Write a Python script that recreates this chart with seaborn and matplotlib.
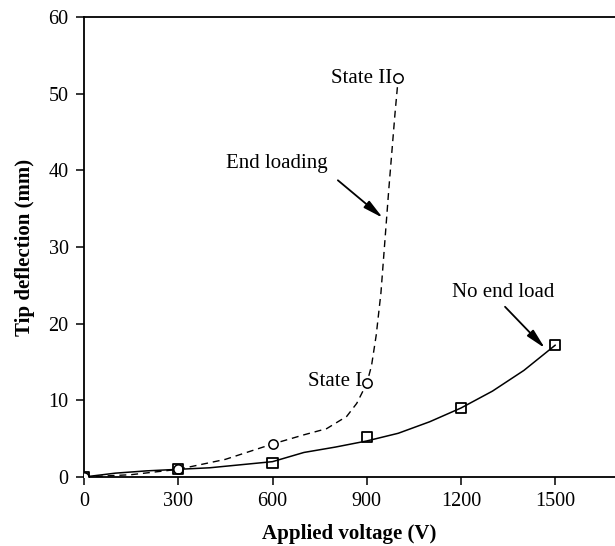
import pandas as pd
import matplotlib
matplotlib.use("Agg")
import matplotlib.pyplot as plt
import seaborn as sns

# Curve: end loading (dashed)
end_curve_v = [0, 150, 300, 450, 600, 700, 772, 836, 868, 900, 915, 930, 945, 958, 970, 980, 990, 1000]
end_curve_d = [0, 0.3, 1.0, 2.3, 4.3, 5.5, 6.3, 7.9, 9.6, 12.2, 14.5, 18.5, 24.0, 31.0, 37.5, 42.5, 47.5, 52.0]
end_marker_v = [0, 300, 600, 900, 1000]
end_marker_d = [0, 1.0, 4.3, 12.2, 52.0]

# Curve: no end load (solid)
free_curve_v = [0, 100, 200, 300, 400, 500, 600, 700, 800, 900, 1000, 1100, 1200, 1300, 1400, 1500]
free_curve_d = [0, 0.5, 0.8, 1.0, 1.2, 1.6, 2.0, 3.2, 3.9, 4.7, 5.7, 7.2, 9.0, 11.2, 13.9, 17.2]
free_marker_v = [0, 300, 600, 900, 1200, 1500]
free_marker_d = [0, 1.0, 1.8, 5.2, 9.0, 17.2]

x_ticks = [0, 300, 600, 900, 1200, 1500]
y_ticks = [0, 10, 20, 30, 40, 50, 60]

sns.set_theme(style="ticks")
plt.rcParams['font.family'] = ['Liberation Serif', 'DejaVu Serif']

fig = plt.figure(figsize=(6.15, 5.46), dpi=100)
ax = fig.add_axes([0.1366, 0.1264, 0.8634, 0.8425])

df_end = pd.DataFrame({'v': end_curve_v, 'd': end_curve_d})
df_free = pd.DataFrame({'v': free_curve_v, 'd': free_curve_d})
sns.lineplot(data=df_end, x='v', y='d', ax=ax, color='black', lw=1.0,
             linestyle=(0, (5, 3.5)), sort=False, estimator=None)
sns.lineplot(data=df_free, x='v', y='d', ax=ax, color='black', lw=1.1,
             sort=False, estimator=None)

sns.scatterplot(x=end_marker_v, y=end_marker_d, ax=ax, marker='o', s=45,
                facecolor='white', edgecolor='black', linewidth=1.1, zorder=5)
sns.scatterplot(x=free_marker_v, y=free_marker_d, ax=ax, marker='s', s=55,
                facecolor='none', edgecolor='black', linewidth=1.3, zorder=5)

fs_tick = 14.5
fs = 15
ax.text(980, 52.0, 'State II', ha='right', va='center', fontsize=fs, color='black')
ax.text(885, 12.4, 'State I', ha='right', va='center', fontsize=fs, color='black')

# labels and their arrows
arrow = dict(arrowstyle='-|>,head_length=1.0,head_width=0.22',
             color='black', lw=1.3, shrinkA=0, shrinkB=0)
ax.text(614, 40.9, 'End loading', ha='center', va='center', fontsize=fs, color='black')
ax.annotate('', xy=(951, 33.8), xytext=(808, 38.7), arrowprops=arrow)
ax.text(1334, 24.1, 'No end load', ha='center', va='center', fontsize=fs, color='black')
ax.annotate('', xy=(1467, 16.8), xytext=(1340, 22.2), arrowprops=arrow)

ax.set_xlim(0, 1690)
ax.set_ylim(0, 60)
ax.set_xticks(x_ticks)
ax.set_yticks(y_ticks)
ax.tick_params(direction='out', length=6, width=1.1, labelsize=fs_tick, pad=5, colors='black')
ax.set_xlabel('Applied voltage (V)', fontsize=fs, fontweight='bold', labelpad=9, color='black')
ax.set_ylabel('Tip deflection (mm)', fontsize=fs, fontweight='bold', labelpad=10, color='black')

for side in ['left', 'bottom', 'top']:
    ax.spines[side].set_linewidth(1.3)
    ax.spines[side].set_color('black')
ax.spines['right'].set_visible(False)

fig.savefig('out.png', dpi=100)
